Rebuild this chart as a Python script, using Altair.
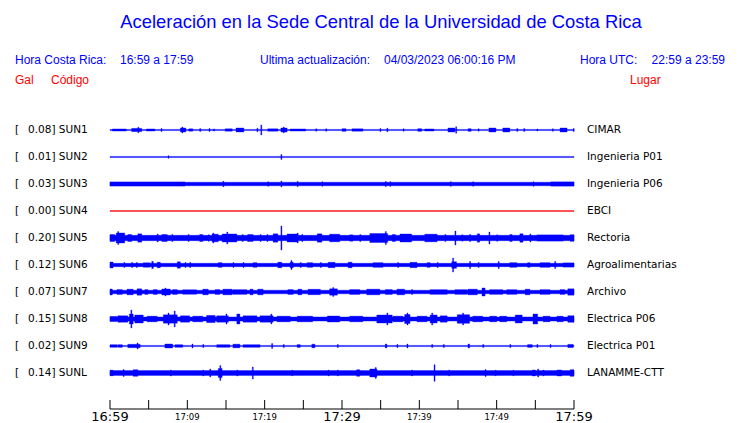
import altair as alt
import pandas as pd

# ---------------- data ----------------
stations = ["SUN1", "SUN2", "SUN3", "SUN4", "SUN5", "SUN6", "SUN7", "SUN8", "SUN9", "SUNL"]
peaks = ["0.08", "0.01", "0.03", "0.00", "0.20", "0.12", "0.07", "0.15", "0.02", "0.14"]
places = ["CIMAR", "Ingenieria P01", "Ingenieria P06", "EBCI", "Rectoria",
          "Agroalimentarias", "Archivo", "Electrica P06", "Electrica P01", "LANAMME-CTT"]
# background (noise) half-amplitude of each trace
base_amp = [0.6, 0.6, 1.8, 0.4, 2.7, 1.7, 1.8, 2.1, 0.6, 2.4]

# bursts / spikes per trace: (start minute, end minute, half amplitude)
SUN1_events = [(0.3, 2.1, 1.0), (2.8, 4.1, 1.6), (3.6, 3.6, 2.8), (4.7, 5.8, 1.0), (6.6, 6.6, 1.4),
               (9.1, 9.8, 2.0), (9.3, 9.3, 3.0), (10.2, 10.7, 1.2), (11.6, 11.6, 1.4), (12.8, 12.8, 1.4),
               (13.4, 13.4, 1.1), (14.9, 15.8, 1.2), (16.3, 17.3, 2.0), (19.0, 19.0, 1.8), (19.5, 19.5, 5.0),
               (20.4, 21.7, 1.2), (22.1, 22.9, 2.0), (22.4, 22.4, 3.0), (23.3, 25.3, 1.0), (26.6, 26.6, 1.2),
               (27.9, 27.9, 1.2), (30.0, 30.5, 1.3), (31.3, 32.7, 1.2), (34.9, 34.9, 1.4), (35.8, 35.8, 1.8),
               (37.9, 37.9, 1.2), (39.8, 40.3, 1.3), (40.7, 41.9, 1.0), (43.7, 44.6, 2.0), (44.7, 44.7, 3.3),
               (46.3, 46.7, 1.3), (47.6, 47.6, 1.2), (49.0, 49.9, 2.0), (50.8, 51.7, 2.0), (52.6, 52.6, 1.4),
               (53.5, 53.5, 1.4), (55.2, 55.2, 1.0), (57.2, 57.2, 1.2), (58.2, 59.1, 2.0), (59.9, 59.9, 1.4)]
SUN2_events = [(7.5, 7.5, 1.2), (22.1, 22.1, 2.5)]
SUN3_events = [(0.0, 9.7, 2.1), (14.6, 14.6, 2.8), (20.4, 20.4, 2.2), (22.1, 22.1, 3.0), (24.2, 24.2, 2.6),
               (27.4, 27.4, 2.2), (35.6, 35.6, 2.6), (36.2, 36.2, 2.3), (44.0, 44.0, 2.3), (46.9, 46.9, 2.2),
               (54.7, 54.7, 2.2), (57.0, 60.0, 2.1)]
SUN4_events = []
SUN5_events = [(0.0, 0.6, 3.5), (0.8, 1.9, 5.0), (1.0, 1.0, 6.5), (2.3, 2.8, 3.5), (3.6, 4.1, 4.2),
               (6.1, 6.1, 4.0), (6.7, 7.4, 3.5), (8.0, 8.0, 3.5), (10.1, 10.1, 3.5), (11.6, 12.0, 3.5),
               (12.7, 12.7, 3.2), (13.2, 14.0, 3.8), (13.3, 13.3, 5.0), (14.5, 16.4, 4.0), (15.1, 15.1, 6.0),
               (17.1, 17.1, 3.5), (17.8, 18.5, 3.5), (19.4, 19.4, 3.5), (20.3, 20.3, 3.5), (21.1, 21.7, 4.2),
               (22.1, 22.1, 12.0), (22.9, 24.3, 4.0), (24.2, 24.2, 5.0), (24.8, 24.8, 3.5), (26.8, 27.4, 4.2),
               (28.4, 29.7, 3.8), (31.0, 31.4, 3.2), (32.3, 32.3, 3.5), (33.6, 35.9, 4.5), (35.6, 35.6, 6.5),
               (36.5, 36.9, 3.5), (37.5, 39.0, 4.0), (40.7, 42.3, 3.8), (43.3, 43.3, 3.5), (44.6, 44.6, 7.0),
               (45.5, 45.5, 3.2), (46.5, 46.5, 3.5), (47.5, 47.8, 4.2), (49.0, 49.0, 6.0), (50.0, 50.0, 3.2),
               (51.7, 52.0, 3.5), (53.0, 53.4, 4.2), (54.3, 54.3, 4.0), (55.2, 58.6, 3.1), (59.5, 60.0, 3.3)]
SUN6_events = [(0.0, 0.4, 3.0), (1.8, 1.8, 2.5), (2.8, 2.8, 2.5), (3.4, 3.4, 2.5), (4.3, 5.2, 2.2),
               (5.4, 5.6, 3.6), (6.1, 6.5, 2.8), (8.7, 9.1, 3.2), (9.7, 9.7, 2.5), (10.3, 10.3, 2.5),
               (14.0, 14.5, 2.3), (15.9, 15.9, 2.5), (17.2, 17.2, 2.5), (18.5, 19.0, 2.3), (21.7, 22.2, 2.8),
               (23.3, 23.7, 2.8), (23.4, 23.4, 4.5), (24.6, 24.6, 2.5), (25.5, 26.2, 2.3), (27.2, 27.2, 2.5),
               (28.2, 29.1, 2.7), (30.8, 31.3, 2.8), (34.0, 35.3, 2.3), (37.2, 37.2, 2.5), (38.8, 39.7, 2.7),
               (41.0, 41.4, 2.3), (42.3, 42.3, 2.5), (44.2, 44.8, 3.3), (44.3, 44.3, 7.0), (46.5, 46.5, 3.5),
               (47.6, 47.6, 2.5), (50.2, 50.2, 3.5), (51.7, 52.6, 2.3), (54.0, 54.3, 2.3), (55.6, 56.9, 2.3),
               (57.5, 57.5, 3.5), (58.6, 60.0, 2.1)]
SUN7_events = [(0.0, 0.3, 3.0), (0.9, 1.6, 2.4), (2.2, 3.0, 2.8), (3.5, 4.1, 3.2), (4.5, 4.9, 2.4),
               (5.6, 6.1, 2.4), (6.7, 7.8, 3.0), (7.1, 7.1, 4.0), (8.1, 8.7, 2.4), (9.4, 11.2, 2.2),
               (12.0, 12.7, 2.8), (13.6, 14.2, 2.4), (14.6, 15.8, 2.8), (15.9, 17.7, 2.3), (18.1, 18.5, 2.8),
               (19.1, 19.8, 2.8), (23.0, 23.7, 2.4), (24.3, 24.8, 2.8), (25.6, 27.2, 2.7), (28.4, 29.4, 3.2),
               (28.8, 28.8, 4.5), (31.0, 32.3, 2.4), (33.2, 34.9, 2.8), (35.6, 36.5, 2.4), (37.1, 38.1, 2.8),
               (39.0, 39.0, 2.5), (41.4, 43.6, 2.3), (44.6, 46.2, 2.3), (46.3, 47.5, 2.8), (48.1, 48.5, 4.0),
               (49.1, 50.8, 2.3), (51.3, 52.6, 2.3), (53.7, 54.3, 2.8), (55.6, 56.9, 2.3), (58.2, 58.8, 2.4),
               (59.2, 60.0, 3.2)]
SUN8_events = [(0.0, 0.9, 2.5), (1.0, 2.3, 3.2), (2.5, 3.0, 5.0), (2.7, 2.7, 9.0), (3.2, 4.3, 4.0),
               (4.8, 6.1, 2.8), (6.9, 8.7, 4.2), (7.5, 7.5, 6.0), (8.3, 8.3, 8.0), (9.1, 10.3, 3.2),
               (10.7, 12.0, 2.8), (12.5, 13.6, 3.6), (13.8, 15.3, 3.2), (15.0, 15.0, 5.0), (16.4, 16.8, 5.0),
               (17.2, 19.0, 3.2), (19.4, 21.1, 3.2), (20.8, 20.8, 5.0), (21.6, 23.3, 2.8), (24.2, 26.2, 2.8),
               (28.1, 29.7, 3.0), (31.0, 32.7, 2.8), (34.5, 36.5, 4.0), (35.8, 35.8, 6.0), (36.6, 37.9, 2.8),
               (38.1, 38.8, 4.5), (38.4, 38.4, 6.0), (39.7, 41.0, 2.8), (41.4, 42.3, 4.0), (41.6, 41.6, 6.0),
               (42.7, 43.6, 3.2), (44.9, 46.5, 4.3), (45.6, 45.6, 6.0), (46.9, 48.2, 2.8), (49.1, 50.0, 2.8),
               (50.4, 51.3, 2.8), (52.4, 53.3, 4.0), (54.7, 55.3, 5.0), (56.0, 56.9, 2.8), (57.8, 58.6, 2.8),
               (59.2, 60.0, 3.3)]
SUN9_events = [(0.0, 0.9, 1.3), (1.0, 1.6, 1.3), (2.3, 3.9, 1.7), (3.5, 3.5, 3.0), (7.1, 8.1, 2.0),
               (8.4, 9.4, 1.3), (10.6, 10.6, 2.0), (12.0, 12.0, 1.5), (13.8, 15.5, 1.3), (15.9, 16.8, 1.8),
               (17.2, 19.4, 1.3), (20.9, 20.9, 2.5), (22.4, 22.4, 1.5), (24.2, 24.6, 1.4), (26.1, 26.5, 1.8),
               (29.4, 29.4, 1.5), (35.6, 35.8, 2.0), (37.1, 37.1, 1.5), (38.4, 38.5, 2.0), (41.6, 41.6, 1.5),
               (43.1, 43.1, 1.5), (46.3, 46.5, 2.0), (48.2, 48.2, 1.5), (51.7, 51.7, 1.5), (54.0, 54.6, 1.4),
               (55.2, 55.2, 1.5), (56.9, 56.9, 1.5), (59.2, 59.9, 1.6)]
SUNL_events = [(0.0, 0.4, 2.8), (1.7, 1.7, 3.5), (3.0, 3.6, 3.3), (7.8, 7.8, 3.0), (12.0, 12.0, 3.0),
               (12.9, 12.9, 4.0), (14.0, 14.5, 4.5), (14.2, 14.2, 7.5), (16.4, 16.4, 3.0), (18.4, 18.5, 6.0),
               (23.5, 23.5, 2.8), (28.2, 28.2, 3.0), (29.4, 29.4, 3.0), (31.9, 32.3, 3.3), (33.6, 34.5, 4.0),
               (34.3, 34.3, 5.5), (39.0, 39.0, 3.0), (41.9, 41.9, 8.3), (43.8, 43.8, 3.0), (48.5, 48.5, 3.5),
               (49.8, 49.8, 2.8), (52.1, 52.1, 2.8), (54.6, 55.0, 3.0), (55.3, 55.3, 4.0), (56.0, 56.0, 3.0),
               (57.8, 58.4, 3.0), (59.5, 60.0, 3.3)]
all_events = [SUN1_events, SUN2_events, SUN3_events, SUN4_events, SUN5_events,
              SUN6_events, SUN7_events, SUN8_events, SUN9_events, SUNL_events]

tick_minutes = list(range(0, 61, 5))
label_minutes = [0, 10, 20, 30, 40, 50, 60]
time_labels = ["16:59", "17:09", "17:19", "17:29", "17:39", "17:49", "17:59"]

title_text = "Aceleración en la Sede Central de la Universidad de Costa Rica"
hdr_local = ["Hora Costa Rica:", "16:59 a 17:59"]
hdr_update = ["Ultima actualización:", "04/03/2023 06:00:16 PM"]
hdr_utc = ["Hora UTC:", "22:59 a 23:59"]
col_heads = ["Gal", "Código", "Lugar"]

# ---------------- tables ----------------
SPACING = 27  # vertical offset between stacked traces (amplitude units)
rows = []
for i, (st, evs) in enumerate(zip(stations, all_events)):
    c = i * SPACING
    rows.append(dict(station=st, t0=0.0, t1=60.0, lo=c - base_amp[i], hi=c + base_amp[i]))
    for (a, b, amp) in evs:
        b = max(b, a + 0.13)
        rows.append(dict(station=st, t0=a, t1=b, lo=c - amp, hi=c + amp))
traces = pd.DataFrame(rows)

labels = pd.DataFrame(dict(station=stations, peak=peaks, place=places,
                           yc=[i * SPACING for i in range(len(stations))]))
labels["code"] = labels["peak"] + "] " + labels["station"]

ticks = pd.DataFrame(dict(m=tick_minutes))
tlabels = pd.DataFrame(dict(m=label_minutes, txt=time_labels))
axis_line = pd.DataFrame(dict(t0=[0.0], t1=[60.0]))

xs = alt.Scale(domain=[0, 60], range=[102, 566], nice=False, zero=False)
ys = alt.Scale(domain=[0, 270], range=[122, 392], nice=False, zero=False)

BLUE = "#0000ff"
color_cond = alt.condition(alt.datum.station == "SUN4", alt.value("#ff0000"), alt.value(BLUE))

trace_layer = alt.Chart(traces).mark_rect(strokeWidth=0.35).encode(
    x=alt.X("t0:Q", scale=xs, axis=None), x2="t1:Q",
    y=alt.Y("lo:Q", scale=ys, axis=None), y2="hi:Q",
    color=color_cond, stroke=color_cond,
)

lab_font = "DejaVu Sans"
bracket = alt.Chart(labels).mark_text(align="left", baseline="middle", font=lab_font,
                                      fontSize=10.5, color="black").encode(
    x=alt.value(7), y=alt.Y("yc:Q", scale=ys, axis=None), text=alt.value("["))
code_txt = alt.Chart(labels).mark_text(align="left", baseline="middle", font=lab_font,
                                       fontSize=10.5, color="black").encode(
    x=alt.value(20), y=alt.Y("yc:Q", scale=ys, axis=None), text="code:N")
place_txt = alt.Chart(labels).mark_text(align="left", baseline="middle", font=lab_font,
                                        fontSize=10.5, color="black").encode(
    x=alt.value(579), y=alt.Y("yc:Q", scale=ys, axis=None), text="place:N")

tick_layer = alt.Chart(ticks).mark_rule(color="black", strokeWidth=1).encode(
    x=alt.X("m:Q", scale=xs, axis=None), y=alt.value(392), y2=alt.value(401))
axis_layer = alt.Chart(axis_line).mark_rule(color="black", strokeWidth=1).encode(
    x=alt.X("t0:Q", scale=xs, axis=None), x2="t1:Q", y=alt.value(401))
tlab_layer = alt.Chart(tlabels).mark_text(baseline="middle", font=lab_font, color="black").encode(
    x=alt.X("m:Q", scale=xs, axis=None), y=alt.value(408.7), text="txt:N",
    size=alt.condition("datum.m % 30 == 0", alt.value(13), alt.value(8.5)))

hfont = "Liberation Sans"
def txt(s, x, y, size=12, color=BLUE, align="left"):
    return alt.Chart(pd.DataFrame(dict(s=[s]))).mark_text(
        align=align, baseline="middle", font=hfont, fontSize=size, color=color).encode(
        x=alt.value(x), y=alt.value(y), text="s:N")

header = [
    txt(title_text, 373, 14, size=18.4, align="center"),
    txt(hdr_local[0], 7, 52), txt(hdr_local[1], 112, 52),
    txt(hdr_update[0], 252, 52), txt(hdr_update[1], 376, 52),
    txt(hdr_utc[0], 572, 52), txt(hdr_utc[1], 717, 52, align="right"),
    txt(col_heads[0], 7, 72, color="#ff0000"), txt(col_heads[1], 43, 72, color="#ff0000"),
    txt(col_heads[2], 622, 72, color="#ff0000"),
]

chart = alt.layer(trace_layer, bracket, code_txt, place_txt, tick_layer, axis_layer, tlab_layer,
                  *header).properties(
    width=724, height=415, padding=0,
    autosize=alt.AutoSizeParams(type="none"),
    background="white",
).configure_view(stroke=None)

chart.save("out.html", embed_options={"renderer": "svg", "actions": False})
